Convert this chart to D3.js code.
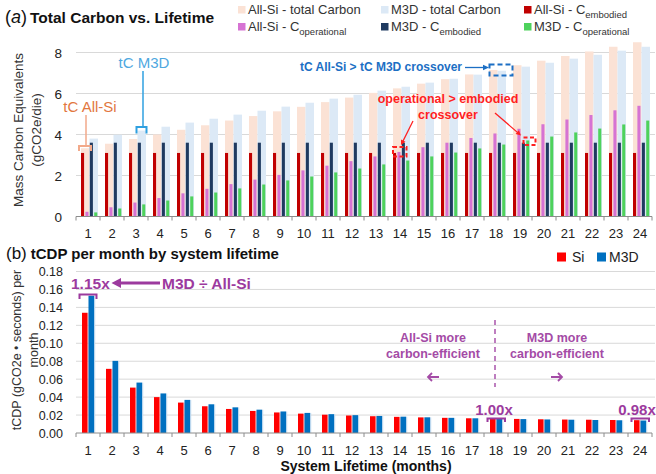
<!DOCTYPE html>
<html><head><meta charset="utf-8">
<script src="https://cdn.jsdelivr.net/npm/d3@7"></script>
<style>body{margin:0;background:#fff} svg{display:block;font-family:"Liberation Sans",Arial,sans-serif}</style>
</head><body><svg id="c" width="656" height="474"></svg>
<script>
const months = ["1","2","3","4","5","6","7","8","9","10","11","12","13","14","15","16","17","18","19","20","21","22","23","24"];
const siEmbodied = [3.1,3.1,3.1,3.1,3.1,3.1,3.1,3.1,3.1,3.1,3.1,3.1,3.1,3.1,3.1,3.1,3.1,3.1,3.1,3.1,3.1,3.1,3.1,3.1];
const siOperational = [0.23,0.45,0.68,0.90,1.13,1.35,1.58,1.80,2.03,2.25,2.48,2.70,2.93,3.15,3.38,3.60,3.83,4.05,4.28,4.50,4.73,4.95,5.18,5.40];
const m3dEmbodied = [3.6,3.6,3.6,3.6,3.6,3.6,3.6,3.6,3.6,3.6,3.6,3.6,3.6,3.6,3.6,3.6,3.6,3.6,3.6,3.6,3.6,3.6,3.6,3.6];
const m3dOperational = [0.20,0.39,0.59,0.78,0.98,1.17,1.37,1.56,1.76,1.95,2.15,2.34,2.54,2.73,2.93,3.12,3.32,3.51,3.71,3.90,4.10,4.29,4.49,4.68];
const siTotal = [3.33,3.55,3.78,4.00,4.23,4.45,4.68,4.90,5.13,5.35,5.58,5.80,6.03,6.25,6.48,6.70,6.93,7.15,7.38,7.60,7.83,8.05,8.28,8.50];
const m3dTotal = [3.80,3.99,4.19,4.38,4.58,4.77,4.97,5.16,5.36,5.55,5.75,5.94,6.14,6.33,6.53,6.72,6.92,7.11,7.31,7.50,7.70,7.89,8.09,8.28];
const tcdpSi = [0.134,0.0715,0.0506,0.0400,0.0339,0.0298,0.0268,0.0246,0.0229,0.0216,0.0204,0.0195,0.0187,0.0180,0.0174,0.0169,0.0164,0.0160,0.0157,0.0153,0.0150,0.0148,0.0145,0.0143];
const tcdpM3D = [0.153,0.0804,0.0562,0.0441,0.0369,0.0320,0.0286,0.0260,0.0240,0.0224,0.0210,0.0199,0.0190,0.0182,0.0175,0.0169,0.0164,0.0159,0.0155,0.0151,0.0148,0.0145,0.0142,0.0139];
const topTicks = [0,2,4,6,8];
const bottomTicks = [0,0.02,0.04,0.06,0.08,0.10,0.12,0.14,0.16,0.18];

const svg = d3.select("#c");
const C = {peach:"#FBE2D5", lblue:"#DCE9F6", red:"#C00000", pink:"#D673D3", navy:"#1F3A60", green:"#4ED25C",
  bred:"#FF0000", bblue:"#0070C0", purple:"#9C3A9E", grid:"#D9D9D9", axis:"#8C8C8C"};

const x = d3.scaleBand().domain(months).range([76, 652]).paddingInner(0).paddingOuter(0);
const xWide = d3.scaleBand().domain(["si","m3d"]).range([5, 22]).padding(0);
const xNarrow = d3.scaleBand().domain(["siE","siO","m3dE","m3dO"]).range([5, 21.3]).paddingInner(0.3).paddingOuter(0);
const xPair = d3.scaleBand().domain(["si","m3d"]).range([6, 18]).paddingInner(0.15).paddingOuter(0);

// ---------- TOP PANEL ----------
const yT = d3.scaleLinear().domain([0, 8]).range([216.5, 52.5]);
const gT = svg.append("g");
gT.selectAll(".gt").data(topTicks.filter(d=>d>0)).join("line")
  .attr("x1",76).attr("x2",655).attr("y1",d=>yT(d)).attr("y2",d=>yT(d))
  .attr("stroke",C.grid).attr("stroke-width",1);
gT.selectAll(".tl").data(topTicks).join("text")
  .attr("x",62).attr("y",d=>yT(d)+5).attr("text-anchor","end").attr("font-size",13.5).attr("fill","#222").text(d=>d);

function bars(g, data, xs, key, yscale, color){
  g.append("g").selectAll("rect").data(data).join("rect")
    .attr("x",(d,i)=>x(months[i])+xs(key)).attr("width",xs.bandwidth())
    .attr("y",d=>yscale(d)).attr("height",d=>yscale(0)-yscale(d)).attr("fill",color);
}
bars(gT, siTotal, xWide, "si", yT, C.peach);
bars(gT, m3dTotal, xWide, "m3d", yT, C.lblue);
bars(gT, siEmbodied, xNarrow, "siE", yT, C.red);
bars(gT, siOperational, xNarrow, "siO", yT, C.pink);
bars(gT, m3dEmbodied, xNarrow, "m3dE", yT, C.navy);
bars(gT, m3dOperational, xNarrow, "m3dO", yT, C.green);

// top axis
gT.append("line").attr("x1",76).attr("x2",652).attr("y1",yT(0)).attr("y2",yT(0)).attr("stroke",C.axis);
gT.selectAll(".tk").data(months.concat(["end"])).join("line")
  .attr("x1",(d,i)=>76+i*x.step()).attr("x2",(d,i)=>76+i*x.step())
  .attr("y1",yT(0)).attr("y2",yT(0)+4).attr("stroke",C.axis);
gT.selectAll(".xl").data(months).join("text")
  .attr("x",d=>x(d)+x.bandwidth()/2).attr("y",238).attr("text-anchor","middle").attr("font-size",13).attr("fill","#222").text(d=>d);

// y title
const yt = gT.append("text").attr("transform","translate(23,130) rotate(-90)").attr("text-anchor","middle").attr("font-size",13.5).attr("fill","#333");
yt.append("tspan").attr("x",0).attr("dy",0).text("Mass Carbon Equivalents");
yt.append("tspan").attr("x",0).attr("dy",18).text("(gCO2e/die)");

// title (a)
const ta = svg.append("text").attr("x",5).attr("y",23).attr("fill","#111");
ta.append("tspan").attr("font-size",18).text("(");
ta.append("tspan").attr("font-size",18).attr("font-style","italic").text("a");
ta.append("tspan").attr("font-size",18).text(")");
ta.append("tspan").attr("font-size",15.5).attr("font-weight","bold").attr("dx",3).text("Total Carbon vs. Lifetime");

// legend top
const legTop = [
  {c:C.peach, x:238, y:6, main:"All-Si - total Carbon", sub:""},
  {c:C.lblue, x:381, y:6, main:"M3D - total Carbon", sub:""},
  {c:C.red, x:524, y:6, main:"All-Si - C", sub:"embodied"},
  {c:C.pink, x:238, y:23, main:"All-Si - C", sub:"operational"},
  {c:C.navy, x:381, y:23, main:"M3D -  C", sub:"embodied"},
  {c:C.green, x:524, y:23, main:"M3D -  C", sub:"operational"}
];
legTop.forEach(l=>{
  svg.append("rect").attr("x",l.x).attr("y",l.y).attr("width",7.5).attr("height",7.5).attr("fill",l.c);
  const t = svg.append("text").attr("x",l.x+10).attr("y",l.y+8).attr("font-size",13).attr("fill","#333");
  t.append("tspan").text(l.main);
  if(l.sub) t.append("tspan").attr("font-size",9.5).attr("dy",4).text(l.sub);
});

// annotations top
const orange="#E2773F", orangeL="#F2A98A", sky="#4FA8DF";
svg.append("text").attr("x",90).attr("y",112).attr("text-anchor","middle").attr("font-size",15).attr("fill",orange).text("tC All-Si");
svg.append("line").attr("x1",86).attr("x2",86).attr("y1",115).attr("y2",146).attr("stroke",orangeL).attr("stroke-width",1.5);
svg.append("path").attr("d","M79,151 V146 H91 V151").attr("fill","none").attr("stroke",orangeL).attr("stroke-width",2);
svg.append("text").attr("x",144).attr("y",68).attr("text-anchor","middle").attr("font-size",15).attr("fill",sky).text("tC M3D");
svg.append("line").attr("x1",143).attr("x2",143).attr("y1",71).attr("y2",127).attr("stroke","#2FA0E0").attr("stroke-width",1.5);
svg.append("path").attr("d","M136.5,133.5 V127 H146.5 V133.5").attr("fill","none").attr("stroke","#2FA0E0").attr("stroke-width",2);

const dblue="#1C6FC4";
svg.append("text").attr("x",462).attr("y",71).attr("text-anchor","end").attr("font-size",12).attr("font-weight","bold").attr("fill",dblue).text("tC All-Si > tC M3D crossover");
svg.append("line").attr("x1",465).attr("x2",484).attr("y1",67.5).attr("y2",67.5).attr("stroke",dblue).attr("stroke-width",1.3);
svg.append("path").attr("d","M489,67.5 L483,64.8 L483,70.2 Z").attr("fill",dblue);
svg.append("rect").attr("x",489.5).attr("y",64.5).attr("width",23).attr("height",11).attr("fill","none").attr("stroke",dblue).attr("stroke-width",2).attr("stroke-dasharray","5,3");

const rr="#FF1F1F";
svg.append("text").attr("x",448).attr("y",102.5).attr("text-anchor","middle").attr("font-size",12.5).attr("font-weight","bold").attr("fill",rr).text("operational > embodied");
svg.append("text").attr("x",448).attr("y",118.5).attr("text-anchor","middle").attr("font-size",12.5).attr("font-weight","bold").attr("fill",rr).text("crossover");
function arrow(x1,y1,x2,y2,col,w,hs){
  const a=Math.atan2(y2-y1,x2-x1);
  svg.append("line").attr("x1",x1).attr("y1",y1).attr("x2",x2-Math.cos(a)*hs*0.8).attr("y2",y2-Math.sin(a)*hs*0.8).attr("stroke",col).attr("stroke-width",w);
  const p1=[x2-Math.cos(a)*hs+Math.sin(a)*hs*0.5, y2-Math.sin(a)*hs-Math.cos(a)*hs*0.5];
  const p2=[x2-Math.cos(a)*hs-Math.sin(a)*hs*0.5, y2-Math.sin(a)*hs+Math.cos(a)*hs*0.5];
  svg.append("path").attr("d",`M${x2},${y2}L${p1[0]},${p1[1]}L${p2[0]},${p2[1]}Z`).attr("fill",col);
}
arrow(413,121,401,145,rr,1.3,5);
arrow(495,113,521,135.5,rr,1.3,5);
svg.append("rect").attr("x",393).attr("y",147).attr("width",13.5).attr("height",9.5).attr("fill","none").attr("stroke",rr).attr("stroke-width",2).attr("stroke-dasharray","4,2.5");
svg.append("rect").attr("x",523.5).attr("y",137.5).attr("width",12).attr("height",7.5).attr("fill","none").attr("stroke",rr).attr("stroke-width",2).attr("stroke-dasharray","4,2.5");

// ---------- BOTTOM PANEL ----------
const yB = d3.scaleLinear().domain([0, 0.18]).range([433, 271.5]);
const gB = svg.append("g");
gB.selectAll(".gb").data(bottomTicks.filter(d=>d>0)).join("line")
  .attr("x1",76).attr("x2",655).attr("y1",d=>yB(d)).attr("y2",d=>yB(d)).attr("stroke",C.grid);
gB.selectAll(".bl").data(bottomTicks).join("text")
  .attr("x",63).attr("y",d=>yB(d)+4.5).attr("text-anchor","end").attr("font-size",12.5).attr("fill","#222").text(d=>d.toFixed(2));

function bbars(data,key,color,edge){
  gB.append("g").selectAll("rect").data(data).join("rect")
    .attr("x",(d,i)=>x(months[i])+xPair(key)+xPair.bandwidth()).attr("width",1.2)
    .attr("y",d=>yB(d)).attr("height",d=>yB(0)-yB(d)).attr("fill",edge);
  gB.append("g").selectAll("rect").data(data).join("rect")
    .attr("x",(d,i)=>x(months[i])+xPair(key)).attr("width",xPair.bandwidth())
    .attr("y",d=>yB(d)).attr("height",d=>yB(0)-yB(d)).attr("fill",color);
}
bbars(tcdpSi,"si",C.bred,"#F9C2C2");
bbars(tcdpM3D,"m3d",C.bblue,"#BBD7EE");

gB.append("line").attr("x1",76).attr("x2",652).attr("y1",yB(0)).attr("y2",yB(0)).attr("stroke",C.axis);
gB.selectAll(".tk").data(months.concat(["end"])).join("line")
  .attr("x1",(d,i)=>76+i*x.step()).attr("x2",(d,i)=>76+i*x.step())
  .attr("y1",yB(0)).attr("y2",yB(0)+4).attr("stroke",C.axis);
gB.selectAll(".xl").data(months).join("text")
  .attr("x",d=>x(d)+x.bandwidth()/2).attr("y",454.5).attr("text-anchor","middle").attr("font-size",13).attr("fill","#222").text(d=>d);
svg.append("text").attr("x",366).attr("y",471).attr("text-anchor","middle").attr("font-size",14).attr("font-weight","bold").attr("fill","#111").text("System Lifetime (months)");

const yb = svg.append("text").attr("transform","translate(21,350) rotate(-90)").attr("text-anchor","middle").attr("font-size",12.5).attr("fill","#333");
yb.append("tspan").attr("x",0).attr("dy",0).text("tCDP (gCO2e \u2022 seconds) per");
yb.append("tspan").attr("x",0).attr("dy",17).text("month");

const tb = svg.append("text").attr("x",6).attr("y",259).attr("fill","#111");
tb.append("tspan").attr("font-size",17).text("(b)");
tb.append("tspan").attr("font-size",15).attr("font-weight","bold").attr("dx",4).text("tCDP per month by system lifetime");

// legend bottom
svg.append("rect").attr("x",557).attr("y",252.5).attr("width",9).attr("height",9).attr("fill",C.bred);
svg.append("text").attr("x",572).attr("y",262).attr("font-size",14).attr("fill","#222").text("Si");
svg.append("rect").attr("x",597).attr("y",252.5).attr("width",9).attr("height",9).attr("fill",C.bblue);
svg.append("text").attr("x",609).attr("y",262).attr("font-size",14).attr("fill","#222").text("M3D");

// annotations bottom
const P=C.purple;
svg.append("text").attr("x",71).attr("y",288.5).attr("font-size",15.5).attr("font-weight","bold").attr("fill",P).text("1.15x");
svg.append("line").attr("x1",160).attr("x2",120).attr("y1",283).attr("y2",283).attr("stroke",P).attr("stroke-width",3);
svg.append("path").attr("d","M111.5,283 L121,278 L121,288 Z").attr("fill",P);
svg.append("text").attr("x",162).attr("y",288.5).attr("font-size",15.5).attr("font-weight","bold").attr("fill",P).text("M3D \u00F7 All-Si");
svg.append("path").attr("d","M79.5,299 V294.5 H96.5 V299").attr("fill","none").attr("stroke",P).attr("stroke-width",2);

svg.append("line").attr("x1",495).attr("x2",495).attr("y1",320).attr("y2",387).attr("stroke",P).attr("stroke-width",1.3).attr("stroke-dasharray","5,4");
[["All-Si more",433],["M3D more",557]].forEach(([t,cx])=>{
  svg.append("text").attr("x",cx).attr("y",341.5).attr("text-anchor","middle").attr("font-size",12.5).attr("font-weight","bold").attr("fill","#A44BA6").text(t);
  svg.append("text").attr("x",cx).attr("y",357.5).attr("text-anchor","middle").attr("font-size",12.5).attr("font-weight","bold").attr("fill","#A44BA6").text("carbon-efficient");
});
svg.append("path").attr("d","M428,377 H439 M432,373 L428,377 L432,381").attr("fill","none").attr("stroke","#A44BA6").attr("stroke-width",1.8);
svg.append("path").attr("d","M551,377 H562 M558,373 L562,377 L558,381").attr("fill","none").attr("stroke","#A44BA6").attr("stroke-width",1.8);

svg.append("text").attr("x",494).attr("y",415).attr("text-anchor","middle").attr("font-size",15).attr("font-weight","bold").attr("fill",P).text("1.00x");
svg.append("path").attr("d","M487.5,422 V418.5 H505 V422").attr("fill","none").attr("stroke",P).attr("stroke-width",2);
svg.append("text").attr("x",637).attr("y",415).attr("text-anchor","middle").attr("font-size",15).attr("font-weight","bold").attr("fill",P).text("0.98x");
svg.append("path").attr("d","M631.5,422 V418.5 H649 V422").attr("fill","none").attr("stroke",P).attr("stroke-width",2);
</script></body></html>
